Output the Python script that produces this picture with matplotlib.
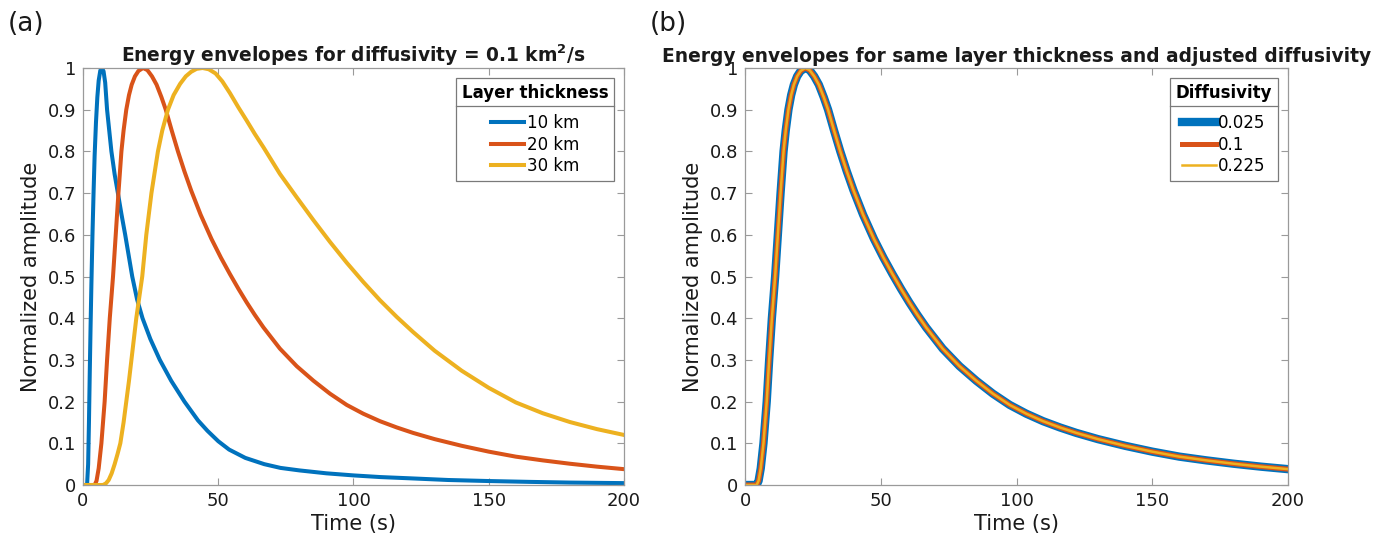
import matplotlib
matplotlib.use('Agg')
import matplotlib.pyplot as plt
from matplotlib.lines import Line2D

plt.rcParams['font.family'] = ['DejaVu Sans']

# envelope samples, panel (a): diffusivity 0.1 km^2/s, three layer thicknesses
t_10km = [0, 1.5, 1.9, 2.2, 2.5, 2.8, 3.1, 3.5, 3.9, 4.3, 4.8, 5.3, 5.8, 6.4, 7.0, 7.6, 8.2,
          8.9, 9.7, 10.5, 11.7, 12.9, 14.2, 15.6, 16.9, 18.2, 20.0, 22.0, 24.9, 28.4, 32.6,
          37.5, 42.5, 46, 50, 54, 60, 67, 73, 80, 90, 100, 110, 121, 135, 150, 165, 180, 200]
amp_10km = [0, 0, 0.05, 0.15, 0.27, 0.38, 0.48, 0.6, 0.7, 0.79, 0.87, 0.93, 0.97, 0.994, 1.0,
            0.992, 0.965, 0.9, 0.85, 0.8, 0.745, 0.7, 0.65, 0.6, 0.55, 0.5, 0.445, 0.4, 0.35,
            0.3, 0.25, 0.2, 0.155, 0.13, 0.105, 0.085, 0.065, 0.05, 0.041, 0.035, 0.028, 0.023,
            0.019, 0.016, 0.012, 0.0095, 0.0075, 0.0058, 0.0045]

t_20km = [0, 4.3, 5.0, 5.8, 6.8, 7.4, 8.0, 8.9, 9.9, 11.1, 12.1, 13.1, 14.2, 15.0, 16.0, 17.0,
          18.0, 19.2, 20.5, 22.2, 23.8, 25.5, 27.2, 29, 30.6, 32.8, 35.1, 37.5, 40, 43.5, 47.5,
          51, 54.3, 57.5, 60.5, 63.5, 66.7, 72.8, 79, 85.2, 91.3, 97.5, 103.6, 109.8, 116, 122,
          130, 140, 150, 160, 170, 180, 190, 200]
amp_20km = [0, 0, 0.01, 0.04, 0.1, 0.15, 0.2, 0.3, 0.4, 0.5, 0.6, 0.7, 0.8, 0.85, 0.9, 0.935,
            0.96, 0.98, 0.993, 1.0, 0.995, 0.98, 0.96, 0.93, 0.9, 0.85, 0.8, 0.752, 0.706, 0.648,
            0.59, 0.545, 0.506, 0.47, 0.438, 0.408, 0.378, 0.327, 0.285, 0.25, 0.219, 0.192,
            0.171, 0.153, 0.138, 0.125, 0.11, 0.094, 0.08, 0.068, 0.059, 0.051, 0.044, 0.038]

t_30km = [0, 7.4, 8.5, 9.5, 10.6, 11.7, 12.8, 13.8, 15.0, 16.0, 17.0, 17.9, 18.8, 19.7, 20.8,
          21.9, 23.4, 25.3, 27.7, 29.3, 31.4, 33.5, 35.9, 38, 40, 42, 44.2, 46.5, 49, 51.5,
          54.3, 57.5, 60.5, 63.5, 66.7, 72.8, 79, 85.2, 91.3, 97.5, 103.6, 109.8, 116, 122,
          130, 140, 150, 160, 170, 180, 190, 200]
amp_30km = [0, 0, 0.004, 0.012, 0.028, 0.05, 0.075, 0.1, 0.15, 0.2, 0.25, 0.3, 0.35, 0.4, 0.45,
            0.5, 0.6, 0.7, 0.8, 0.85, 0.9, 0.935, 0.962, 0.98, 0.991, 0.998, 1.0, 0.997, 0.987,
            0.968, 0.94, 0.905, 0.874, 0.842, 0.81, 0.746, 0.69, 0.635, 0.583, 0.533, 0.487,
            0.443, 0.403, 0.367, 0.322, 0.274, 0.233, 0.198, 0.172, 0.151, 0.134, 0.12]

thickness_labels = ['10 km', '20 km', '30 km']

# panel (b): same layer thickness, diffusivity scaled with it -> identical envelopes
diffusivities = ['0.025', '0.1', '0.225']
t_b = t_20km
amp_b = {'0.025': amp_20km, '0.1': amp_20km, '0.225': amp_20km}

colors = ['#0072BD', '#D95319', '#EDB120']
axis_grey = '#9a9a9a'
text_col = '#1a1a1a'

fig = plt.figure(figsize=(13.92, 5.41), dpi=100)
ax1 = fig.add_axes([83 / 1392, 56 / 541, 541 / 1392, 417 / 541])
ax2 = fig.add_axes([745 / 1392, 56 / 541, 543 / 1392, 417 / 541])


def style_axes(ax):
    ax.set_xlim(0, 200)
    ax.set_ylim(0, 1)
    ax.set_xticks([0, 50, 100, 150, 200])
    ax.set_yticks([i / 10 for i in range(11)])
    ax.set_yticklabels(['0'] + ['0.%d' % i for i in range(1, 10)] + ['1'])
    ax.tick_params(direction='in', length=5, width=0.8, color=axis_grey, labelcolor=text_col,
                   labelsize=13, top=True, right=True, pad=5)
    for sp in ax.spines.values():
        sp.set_color(axis_grey)
        sp.set_linewidth(0.9)
    ax.set_xlabel('Time (s)', fontsize=15, color=text_col, labelpad=3)
    ax.set_ylabel('Normalized amplitude', fontsize=15, color=text_col, labelpad=5)


def add_legend(ax, title):
    leg = ax.legend(title=title, loc='upper right', fancybox=False, framealpha=1,
                    edgecolor='#7a7a7a', fontsize=12, handlelength=2.0, handletextpad=0.15,
                    borderaxespad=0.6, labelspacing=0.2, borderpad=0.35)
    leg.get_title().set_fontweight('bold')
    leg.get_title().set_fontsize(12)
    leg._legend_box.sep = 9
    leg.get_frame().set_linewidth(0.9)
    return leg


# (a) three thicknesses at fixed diffusivity
for t, a, c, lab in zip([t_10km, t_20km, t_30km], [amp_10km, amp_20km, amp_30km], colors,
                        thickness_labels):
    ax1.plot(t, a, color=c, lw=2.9, label=lab)
style_axes(ax1)
ax1.set_title('Energy envelopes for diffusivity = 0.1 km$^\\mathbf{2}$/s', fontsize=13.4,
              fontweight='bold', color=text_col, pad=4)
leg1 = add_legend(ax1, 'Layer thickness')

# (b) overlapping envelopes, drawn thick to thin so all three stay visible
for d, c, lw in zip(diffusivities, colors, [6.0, 3.6, 1.8]):
    ax2.plot(t_b, amp_b[d], color=c, lw=lw, label=d)
style_axes(ax2)
ax2.set_title('Energy envelopes for same layer thickness and adjusted diffusivity', fontsize=13.4,
              fontweight='bold', color=text_col, pad=4)
leg2 = add_legend(ax2, 'Diffusivity')

fig.text(8 / 1392, 1 - 24 / 541, '(a)', fontsize=19, va='center', ha='left', color=text_col)
fig.text(650 / 1392, 1 - 24 / 541, '(b)', fontsize=19, va='center', ha='left', color=text_col)

# separator line under each legend title
fig.canvas.draw()
renderer = fig.canvas.get_renderer()
inv = fig.transFigure.inverted()
for leg in (leg1, leg2):
    fb = leg.get_frame().get_window_extent(renderer)
    tb = leg.get_title().get_window_extent(renderer)
    ysep = tb.y0 - 4
    (x0, y0) = inv.transform((fb.x0, ysep))
    (x1, _) = inv.transform((fb.x1, ysep))
    fig.add_artist(Line2D([x0, x1], [y0, y0], transform=fig.transFigure, color='#7a7a7a', lw=0.9))

fig.savefig('out.png', dpi=100)
